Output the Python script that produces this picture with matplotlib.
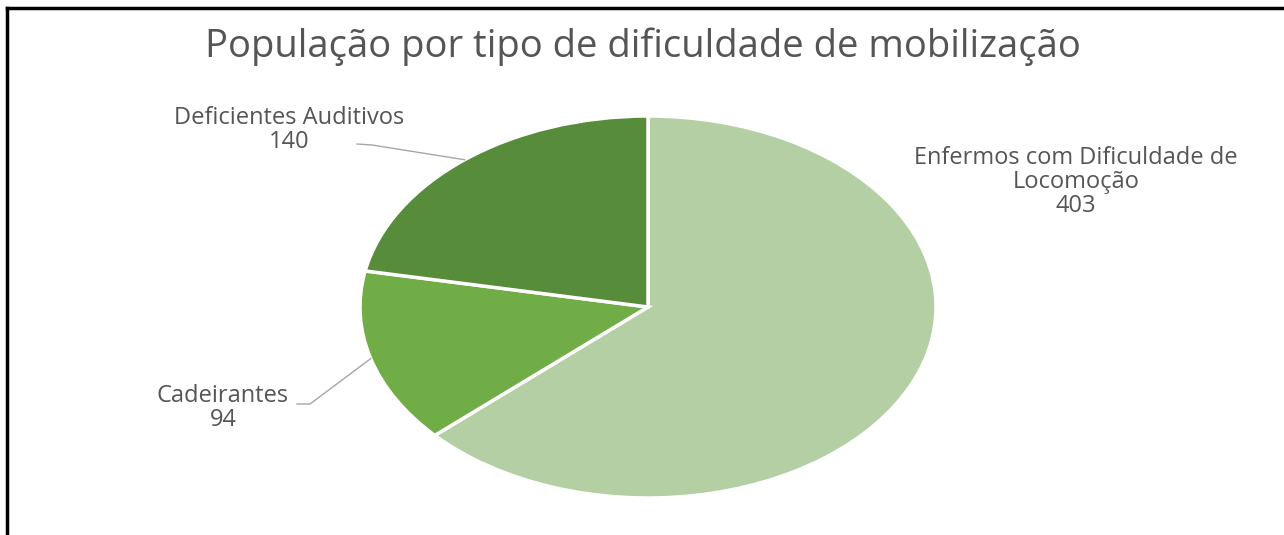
import matplotlib.pyplot as plt
import numpy as np
from matplotlib.lines import Line2D

# data
categories = ["Enfermos com Dificuldade de\nLocomoção", "Cadeirantes", "Deficientes Auditivos"]
values = [403, 94, 140]
colors = ["#b4cfa4", "#70ad47", "#578c3a"]
title = "População por tipo de dificuldade de mobilização"

W, H = 1284, 535
fig = plt.figure(figsize=(W / 100, H / 100), dpi=100)
plt.rcParams['font.family'] = ['Open Sans', 'DejaVu Sans']

# pie area (pixel box of the stretched ellipse)
cx, cy, rx, ry = 648, 307, 288, 191
ax = fig.add_axes([(cx - rx) / W, (H - cy - ry) / H, 2 * rx / W, 2 * ry / H])
wedges, _ = ax.pie(values, colors=colors, startangle=90, counterclock=False,
                   wedgeprops=dict(edgecolor="white", linewidth=2.5))
ax.set_aspect('auto')
ax.set_xlim(-1, 1)
ax.set_ylim(-1, 1)
ax.axis('off')

# labels: text centre (pixels from top-left), leader line or not
label_pos = [(1076, 182), (223, 408), (289, 130)]
leader = [False, True, True]
line_color = "#a6a6a6"
txt_color = "#555555"

for w, val, name, (px, py), has_line in zip(wedges, values, categories, label_pos, leader):
    mid = np.deg2rad((w.theta1 + w.theta2) / 2)
    ex, ey = np.cos(mid), np.sin(mid)
    # convert label pixel pos to data coords
    tx = (px - cx) / rx
    ty = (cy - py) / ry
    ax.text(tx, ty, f"{name}\n{val}", ha="center", va="center", fontsize=17,
            color=txt_color, linespacing=1.0, clip_on=False)
    if has_line:
        if ex < 0 and ey > 0:
            # Deficientes: starts right of text end
            sx, sy = (357 - cx) / rx, (cy - 144) / ry
            kx, ky = (372 - cx) / rx, (cy - 145) / ry
        else:
            sx, sy = (297 - cx) / rx, (cy - 404) / ry
            kx, ky = (310 - cx) / rx, (cy - 404) / ry
        ax.add_line(Line2D([sx, kx, ex], [sy, ky, ey], color=line_color, lw=1,
                           clip_on=False))

fig.text(643 / W, 1 - 47 / H, title, ha="center", va="center", fontsize=27.5, color=txt_color)

# frame: top and left edges only
fig.add_artist(Line2D([7 / W, 1], [1 - 8 / H, 1 - 8 / H], color="black", lw=2.5,
                      transform=fig.transFigure))
fig.add_artist(Line2D([7 / W, 7 / W], [0, 1 - 8 / H], color="black", lw=2.5,
                      transform=fig.transFigure))

fig.savefig("out.png", dpi=100, facecolor="white")
